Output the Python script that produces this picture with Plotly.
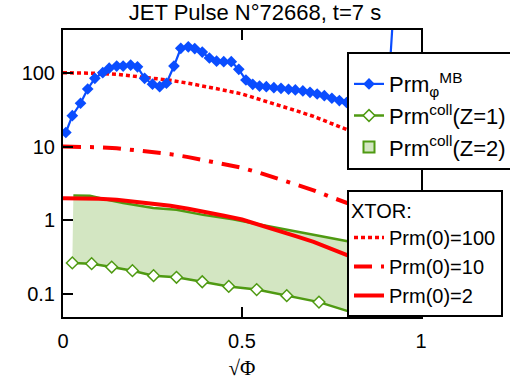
import plotly.graph_objects as go

# sqrt of normalised toroidal flux and magnetic Prandtl number profiles
rho_mb = [0.008, 0.026, 0.049, 0.069, 0.089, 0.111, 0.129, 0.150, 0.168, 0.189,
          0.208, 0.228, 0.250, 0.270, 0.289, 0.310, 0.329, 0.350, 0.368, 0.389,
          0.409, 0.429, 0.449, 0.470, 0.491, 0.511, 0.530, 0.549, 0.568, 0.589,
          0.609, 0.630, 0.649, 0.670, 0.690, 0.710, 0.730, 0.751, 0.772, 0.792,
          0.812, 0.832, 0.852, 0.872, 0.890, 0.905, 0.925]
prm_mb = [15.5, 26.2, 38.6, 60.2, 84, 100, 115, 123, 123, 127,
          120, 84, 70, 64.7, 72, 123, 214, 224, 212, 190,
          158, 143, 141, 141, 111, 79.6, 69.6, 66, 64.7, 62.7,
          61.5, 59.7, 58.4, 56.6, 54.3, 51.5, 48.9, 45.1, 41.9, 39.5,
          37.5, 35.5, 34, 32.5, 31, 30, 1000]

rho_z1 = [0.026, 0.080, 0.136, 0.194, 0.253, 0.317, 0.389, 0.463, 0.541, 0.625,
          0.715, 0.818, 0.920]
prm_z1 = [0.266, 0.260, 0.234, 0.209, 0.179, 0.170, 0.148, 0.128, 0.116, 0.096,
          0.0785, 0.0548, 0.035]

rho_z2 = [0.029, 0.075, 0.120, 0.168, 0.252, 0.317, 0.391, 0.474, 0.567, 0.660,
          0.781, 0.850, 0.920]
prm_z2 = [2.18, 2.16, 1.92, 1.72, 1.47, 1.40, 1.19, 1.04, 0.85, 0.70,
          0.537, 0.47, 0.40]

# XTOR input profiles for three on-axis values
rho_xtor = [0.0, 0.05, 0.1, 0.15, 0.2, 0.25, 0.3, 0.35, 0.4, 0.45, 0.5,
            0.55, 0.6, 0.65, 0.7, 0.75, 0.8, 0.85, 0.9, 0.95, 1.0]
prm_xtor_100 = [100, 99.5, 98, 95, 90, 85, 79, 72, 65.5, 58, 51.5,
                43.7, 37, 30.7, 25.6, 20.6, 16.8, 13.2, 10.3, 7.9, 6.0]
prm_xtor_10 = [10, 9.95, 9.8, 9.5, 9.0, 8.5, 7.9, 7.2, 6.5, 5.8, 5.15,
               4.4, 3.7, 3.07, 2.56, 2.06, 1.68, 1.32, 1.03, 0.79, 0.60]
prm_xtor_2 = [2.0, 1.99, 1.96, 1.90, 1.80, 1.70, 1.58, 1.44, 1.31, 1.16, 1.03,
              0.874, 0.74, 0.614, 0.512, 0.412, 0.336, 0.264, 0.206, 0.158, 0.12]

x_ticks = [0, 0.5, 1]
x_ticktext = ["0", "0.5", "1"]
y_ticks = [0.1, 1, 10, 100]
y_ticktext = ["0.1", "1", "10", "100"]

BLUE = "#0a4dff"
RED = "#ff0000"
GREEN = "#4f9a12"
GREEN_FILL = "#d3e6c2"
SANS = "Liberation Sans, Arial, sans-serif"
SERIF = "Liberation Serif, Times New Roman, serif"

fig = go.Figure()

fig.add_trace(go.Scatter(
    x=rho_z1, y=prm_z1, mode="lines+markers",
    name="Prm<sup>coll</sup>(Z=1)",
    line=dict(color=GREEN, width=2.5),
    marker=dict(symbol="diamond", size=9, color="white",
                line=dict(color=GREEN, width=1.5)),
    legend="legend", legendrank=2,
))
fig.add_trace(go.Scatter(
    x=rho_z2, y=prm_z2, mode="lines", fill="tonexty", fillcolor=GREEN_FILL,
    line=dict(color=GREEN, width=2.5), showlegend=False,
))
# legend swatch for the collisional band
fig.add_trace(go.Scatter(
    x=[None], y=[None], mode="markers",
    name="Prm<sup>coll</sup>(Z=2)",
    marker=dict(symbol="square", size=11, color=GREEN_FILL,
                line=dict(color=GREEN, width=2)),
    legend="legend", legendrank=3,
))

fig.add_trace(go.Scatter(
    x=rho_xtor, y=prm_xtor_100, mode="lines", name="Prm(0)=100",
    line=dict(color=RED, width=3.5, dash="4px,3px"),
    legend="legend2", legendrank=1,
))
fig.add_trace(go.Scatter(
    x=rho_xtor, y=prm_xtor_10, mode="lines", name="Prm(0)=10",
    line=dict(color=RED, width=4, dash="18px,9px,4px,9px"),
    legend="legend2", legendrank=2,
))
fig.add_trace(go.Scatter(
    x=rho_xtor, y=prm_xtor_2, mode="lines", name="Prm(0)=2",
    line=dict(color=RED, width=4),
    legend="legend2", legendrank=3,
))

fig.add_trace(go.Scatter(
    x=rho_mb, y=prm_mb, mode="lines+markers",
    name="Prm<sub>φ</sub><sup>MB</sup>",
    line=dict(color=BLUE, width=2.2),
    marker=dict(symbol="diamond", size=9, color=BLUE),
    legend="legend", legendrank=1,
))

axis_common = dict(
    showline=True, linecolor="black", linewidth=2, mirror="ticks",
    ticks="inside", ticklen=10, tickwidth=2, tickcolor="black",
    showgrid=False, zeroline=False,
    tickfont=dict(family=SANS, size=20, color="black"),
)

fig.update_layout(
    width=510, height=380,
    margin=dict(l=63, r=89, t=30, b=63, autoexpand=False),
    paper_bgcolor="white", plot_bgcolor="white",
    title=dict(text="JET Pulse N°72668, t=7 s", x=0.5, xref="container",
               xanchor="center", y=1 - 12 / 380, yref="container",
               yanchor="middle",
               font=dict(family=SANS, size=22, color="black")),
    xaxis=dict(range=[0, 1], tickvals=x_ticks, ticktext=x_ticktext,
               ticklabelstandoff=5,
               title=dict(text="√Φ", standoff=12,
                          font=dict(family=SERIF, size=21, color="black")),
               **axis_common),
    yaxis=dict(type="log", range=[-1.307, 2.578], tickvals=y_ticks,
               ticktext=y_ticktext, ticklabelstandoff=2, **axis_common),
    legend=dict(x=(347 - 63) / 358, y=(317 - 52) / 287, xanchor="left",
                yanchor="top", bgcolor="white", bordercolor="black",
                borderwidth=2, font=dict(family=SANS, size=22, color="black"),
                title=dict(text=" ", font=dict(family=SANS, size=7)),
                traceorder="normal"),
    legend2=dict(x=(347 - 63) / 358, y=(317 - 190) / 287, xanchor="left",
                 yanchor="top", bgcolor="white", bordercolor="black",
                 borderwidth=2, font=dict(family=SANS, size=20, color="black"),
                 title=dict(text="XTOR:", font=dict(family=SANS, size=20,
                                                    color="black")),
                 traceorder="normal"),
    showlegend=True,
)

fig.write_html("out.html")
